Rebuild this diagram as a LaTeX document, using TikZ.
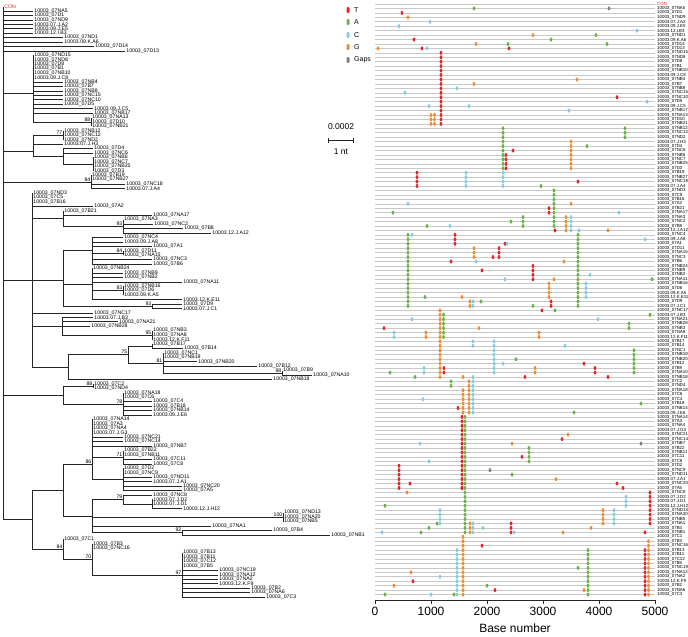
\documentclass[tikz,border=0pt]{standalone}
\usepackage{fontspec}
\setmainfont{Liberation Sans}
\usetikzlibrary{positioning}
\definecolor{colT}{HTML}{E4262B}
\definecolor{colA}{HTML}{6CB244}
\definecolor{colC}{HTML}{80CEDF}
\definecolor{colG}{HTML}{EF8D33}
\definecolor{colGap}{HTML}{808080}
\newcommand\sidU{10003\_07}
\newcommand\sidD{10003.}

\begin{document}
\begin{tikzpicture}[x=1pt,y=-1pt,
  br/.style={draw=black!85,line width=0.5pt},
  grid/.style={draw=black!22,line width=0.6pt},
  tip/.style={font=\fontsize{5.2}{5}\selectfont,anchor=west,inner sep=1.2pt},
  boot/.style={font=\fontsize{5.2}{5}\selectfont,anchor=south east,inner sep=0.5pt},
  rowlab/.style={font=\fontsize{4.4}{4}\selectfont,anchor=west,inner sep=0pt},
  ax/.style={font=\fontsize{12}{12}\selectfont},
  dot/.style={x radius=1.4pt,y radius=2pt}]
\useasboundingbox (0,0) rectangle (688,637);

% sequence names, one per row
\foreach \r/\n in {1/\sidU NA5,2/\sidU D1,3/\sidU ND9,4/\sidD 07.J.A2,5/\sidD 09.J.E5,
  6/\sidD 12.I.B3,7/\sidU ND1,8/\sidD 09.K.A6,9/\sidU D14,10/\sidU D13,11/\sidU ND15,
  12/\sidU ND8,13/\sidU D8,14/\sidU B1,15/\sidU NB10,16/\sidD 09.J.C8,17/\sidU NB4,
  18/\sidU B7,19/\sidU NB8,20/\sidU NC15,21/\sidU NC10,22/\sidU D5,23/\sidD 09.J.C5,
  24/\sidU NB17,25/\sidU NA13,26/\sidU D10,27/\sidU NB21,28/\sidU NB12,29/\sidU NC12,
  30/\sidU ND2,31/\sidD 07.J.H3,32/\sidU D4,33/\sidU NC6,34/\sidU NB6,35/\sidU NC7,
  36/\sidU NB25,37/\sidU D3,38/\sidU B19,39/\sidU NB27,40/\sidU NC18,41/\sidD 07.J.A4,
  42/\sidU ND3,43/\sidU C5,44/\sidU B16,45/\sidU A2,46/\sidU B21,47/\sidU NA17,
  48/\sidU NA3,49/\sidU NC2,50/\sidU B8,51/\sidD 12.J.A12,52/\sidU NC4,53/\sidD 09.J.A8,
  54/\sidU A1,55/\sidU D11,56/\sidU NA15,57/\sidU NC3,58/\sidU B6,59/\sidU NB24,
  60/\sidU NB9,61/\sidU NB2,62/\sidU NA11,63/\sidU NB16,64/\sidU D6,65/\sidD 09.K.A5,
  66/\sidD 12.K.E11,67/\sidU D9,68/\sidD 07.J.C1,69/\sidU NC17,70/\sidD 07.J.B3,
  71/\sidU NA21,72/\sidU NB28,73/\sidU NB3,74/\sidU NA8,75/\sidD 12.K.F11,76/\sidU B17,
  77/\sidU B14,78/\sidU NC1,79/\sidU NB19,80/\sidU NB20,81/\sidU B12,82/\sidU B9,
  83/\sidU NA10,84/\sidU NB18,85/\sidU C2,86/\sidU ND4,87/\sidU NA18,88/\sidU C6,
  89/\sidU C4,90/\sidU B18,91/\sidU NB14,92/\sidD 09.J.E6,93/\sidU NA14,94/\sidU A3,
  95/\sidU NA4,96/\sidD 07.J.G3,97/\sidU NC21,98/\sidU NC14,99/\sidU NB7,100/\sidU B22,
  101/\sidU NB11,102/\sidU C11,103/\sidU C8,104/\sidU D2,105/\sidU NC9,106/\sidU ND11,
  107/\sidD 07.J.A1,108/\sidU NC20,109/\sidU A5,110/\sidU NC8,111/\sidD 07.J.D2,
  112/\sidD 07.J.D1,113/\sidD 12.J.H12,114/\sidU ND13,115/\sidU NA20,116/\sidU NB5,
  117/\sidU NA1,118/\sidU B4,119/\sidU NB1,120/\sidU C1,121/\sidU B3,122/\sidU NC16,
  123/\sidU B13,124/\sidU B11,125/\sidU C12,126/\sidU B5,127/\sidU NC19,128/\sidU NA12,
  129/\sidU NA2,130/\sidD 12.K.F9,131/\sidU B2,132/\sidU NA6,133/\sidU C3}
  {\expandafter\xdef\csname nm\r\endcsname{\unexpanded\expandafter{\n}}}

% tree
\begin{scope}[y=-4.44pt,yshift=-6.5pt]
  \node[tip,text=colT] (con) at (3,0) {CON};
  \draw[br] (3,0) -- (3,115.5);
  \foreach \x/\a/\b/\px/\rc in {33/11/26/3/19.5,91/25/27/33/26,
      33/29/33.75/3/32.5,63/28/30/33/29,63/32/35.5/33/33.75,93/34/37/63/35.5,
      91/38/41/3/39.5,
      32/42/81.2/3/61.6,63/46/49.5/32/47.75,123/48/51/63/49.5,63/55/67.5/32/61.6,
      92/52/58/63/55,123/55/56/92/55.5,92/59/66/63/62.5,123/63/65/92/64,
      152/67/68/63/67.5,62/70/74/32/72,152/73/75/62/74,68/78.4/84/32/81.2,
      128/76.5/80.25/68/78.4,152/76/77/128/76.5,163/78/82.5/128/80.25,282/82/83/163/82.5,
      63/85.5/89.5/3/87.5,93/85/86/63/85.5,123/87/92/63/89.5,
      32/109/122.25/3/115.5,63/103/114.75/32/109,92/93/106.5/63/103,
      123/100/103/92/101.5,123/104/109/92/106.5,92/111/118.5/63/114.75,
      123/110/112/92/111,152/111/113/123/112,283/114/116/92/115,182/118/119/92/118.5,
      63/120/124.5/32/122.25,92/121/128/63/124.5,182/123/133/92/128}
    {\draw[br] (\x,\a) -- (\x,\b);
     \draw[br] (\px,\rc) -- (\x,\rc);}
  \foreach \r/\a/\b in {1/3/33,2/3/33,3/3/33,4/3/33,5/3/33,6/3/33,7/3/63,8/3/63,
      9/3/94,10/3/125,11/33/33,12/33/33,13/33/33,14/33/33,15/33/33,16/33/33,
      17/33/63,18/33/63,19/33/63,20/33/63,21/33/63,22/33/63,23/33/93,24/33/93,
      25/91/91,26/91/91,27/91/91,28/63/63,29/63/63,30/63/63,31/33/63,32/63/93,
      33/63/93,34/93/93,35/93/93,36/93/93,37/93/93,38/91/91,39/91/91,40/91/125,
      41/91/125,42/32/32,43/32/32,44/32/32,45/32/93,46/63/63,47/63/152,48/123/123,
      49/123/153,50/123/183,51/123/211,52/92/123,53/92/123,54/92/152,55/123/123,
      56/123/123,57/92/152,58/92/152,59/92/92,60/92/123,61/92/123,62/92/182,
      63/123/123,64/123/123,65/123/123,66/92/182,67/152/182,68/152/182,69/32/93,
      70/62/93,71/62/118,72/62/90,73/152/152,74/152/152,75/152/152,76/152/152,
      77/152/183,78/163/163,79/163/163,80/163/197,81/163/257,82/282/282,83/282/312,
      84/68/272,85/93/93,86/93/93,87/123/123,88/123/123,89/123/152,90/123/152,
      91/123/152,92/123/152,93/92/92,94/92/92,95/92/92,96/92/92,97/92/123,98/92/123,
      99/92/152,100/123/123,101/123/123,102/123/152,103/123/152,104/123/123,
      105/123/123,106/123/152,107/123/152,108/123/182,109/123/182,110/123/152,
      111/152/152,112/152/152,113/152/182,114/283/283,115/283/283,116/283/283,
      117/92/211,118/182/272,119/182/330,120/63/63,121/92/92,122/92/92,123/182/182,
      124/182/182,125/182/182,126/182/182,127/182/218,128/182/218,129/182/218,
      130/182/218,131/182/250,132/182/250,133/182/265}
    {\draw[br] (\a,\r) -- (\b,\r);
     \node[tip] (lf\r) at (\b,\r) {\csname nm\r\endcsname};}
  \foreach \x/\r/\v in {91/26/88,63/29/77,91/39.5/84,123/49.5/93,123/55.5/84,
      123/64/83,152/67.5/93,152/74/95,128/78.4/75,163/80.25/81,282/82.5/98,
      93/85.5/88,123/89.5/78,92/103/86,123/101.5/71,123/111/79,283/115/100,
      182/118.5/92,63/122.25/84,92/124.5/70,182/128/97}
    {\node[boot] (bs\x-\v) at (\x,\r) {\v};}
\end{scope}

% scale bar
\node[font=\fontsize{8.5}{8.5}\selectfont] (sbtop) at (341,127) {0.0002};
\coordinate (sbl) at (328.5,140);
\coordinate (sbr) at (353.5,140);
\draw[br,line width=0.7pt] (sbl) -- (sbr);
\draw[br,line width=0.7pt] ([yshift=2.5pt]sbl) -- ([yshift=-2.5pt]sbl);
\draw[br,line width=0.7pt] ([yshift=2.5pt]sbr) -- ([yshift=-2.5pt]sbr);
\node[font=\fontsize{8.5}{8.5}\selectfont] (sbbot) at (341,152) {1 nt};

% legend
\foreach \y/\c/\t in {10/colT/T,22/colA/A,35/colC/C,47/colG/G,60/colGap/Gaps}
  {\fill[\c,rounded corners=1.2pt] (346.5,\y-3) rectangle (349.5,\y+3);
   \node[font=\fontsize{7}{7}\selectfont,anchor=west,inner sep=0pt] (lg\t) at (354,\y) {\t};}

% highlighter rows
\begin{scope}[y=-4.44pt,yshift=-4pt]
  \foreach \r in {0,...,133}{\draw[grid] (375,\r) -- (655,\r);}
  \node[rowlab,text=colT] (rl0) at (657,0) {CON};
  \foreach \r in {1,...,133}{\node[rowlab] (rl\r) at (657,\r) {\csname nm\r\endcsname};}
  \foreach \x/\a/\b/\c in {441/11/27/colT,431/25/27/colG,434.5/25/27/colG,
      503/28/37/colA,506/34/37/colT,625/28/30/colA,571/31/37/colG,
      417/38/41/colT,466/38/41/colC,503/38/41/colC,
      554/42/50/colA,549/46/47/colT,523/48/50/colA,566/48/51/colG,571/48/51/colC,
      408/52/68/colA,578/52/68/colA,455/52/54/colT,
      474/55/57/colG,499/55/57/colT,533/59/62/colT,549/63/66/colG,586/63/66/colC,
      470/67/68/colG,473/67/68/colC,551/67/68/colT,
      440/69/84/colG,443.5/70/75/colA,629/72/73/colA,
      394/74/75/colC,426/74/75/colG,539/74/75/colG,
      473/76/77/colC,494/76/83/colC,634/78/83/colA,
      595/82/83/colT,444/82/83/colT,424/82/83/colC,535/82/83/colG,
      469/85/92/colG,473/84/92/colC,451/85/86/colA,463/87/92/colG,
      462/93/109/colT,465/93/119/colA,
      529/100/103/colA,399/104/109/colT,
      626/111/113/colC,650/110/117/colT,
      440/114/117/colC,603/114/117/colG,614/114/117/colC,
      470/117/119/colG,473/117/119/colC,511/117/119/colT,
      463/120/133/colG,457/123/133/colC,588/123/133/colA,
      645/123/133/colT,648.5/121/133/colG}
    {\foreach \r in {\a,...,\b}{\fill[\c] (\x,\r) ellipse[dot];}}
  \foreach \x/\r/\c in {474/1/colA,609/1/colGap,402/2/colT,408/3/colG,430/4/colC,
      399/5/colC,637/6/colC,533/7/colG,596/7/colA,414/8/colT,551/8/colA,476/9/colG,
      508/9/colA,607/9/colA,378/10/colG,422/10/colT,427/10/colC,509/10/colT,
      577/17/colG,474/18/colG,457/19/colC,405/20/colC,617/21/colT,647/22/colC,
      429/23/colC,469/23/colC,569/24/colC,
      513/33/colT,587/32/colA,578/40/colT,541/41/colA,408/45/colC,571/45/colG,
      393/47/colA,619/47/colC,511/49/colA,427/50/colA,450/50/colC,555/51/colT,
      579/51/colC,608/51/colG,
      412/52/colC,645/53/colC,505/54/colT,507/54/colC,493/57/colT,451/58/colT,
      476/58/colC,564/58/colG,482/60/colT,590/61/colC,505/62/colC,554/62/colG,
      652/62/colA,425/66/colA,462/66/colG,481/67/colA,533/68/colA,542/69/colT,
      555/69/colA,650/70/colA,412/71/colC,598/71/colC,384/73/colT,479/73/colG,
      565/77/colC,
      503/81/colC,516/80/colA,584/81/colT,608/84/colT,390/83/colA,415/84/colA,
      525/84/colT,463/84/colG,
      423/89/colC,458/91/colT,641/90/colA,574/92/colA,568/97/colG,562/98/colT,
      420/99/colC,512/99/colG,641/99/colGap,522/102/colT,429/103/colC,490/105/colGap,
      512/106/colA,556/107/colG,
      410/108/colT,617/108/colT,623/109/colT,407/110/colG,462/109/colT,385/113/colA,
      437/117/colA,429/118/colA,421/119/colA,382/119/colC,483/118/colC,514/119/colC,
      563/119/colG,591/118/colG,645/119/colT,482/122/colT,578/127/colA,411/128/colG,
      440/129/colC,413/130/colT,394/131/colG,487/131/colA,495/132/colT,584/132/colG,
      385/133/colA,431/133/colC,454/133/colA}
    {\fill[\c] (\x,\r) ellipse[dot];}
\end{scope}

% axis
\draw[br,line width=0.8pt] (375,600) -- (655,600);
\foreach \k/\v in {0/0,1/1000,2/2000,3/3000,4/4000,5/5000}
  {\draw[br,line width=0.8pt] (375+56*\k,600) -- (375+56*\k,604);
   \node[ax] (tk\k) at (375+56*\k,611) {\v};}
\node[ax] (axtitle) at (515,628) {Base number};
\end{tikzpicture}
\end{document}
